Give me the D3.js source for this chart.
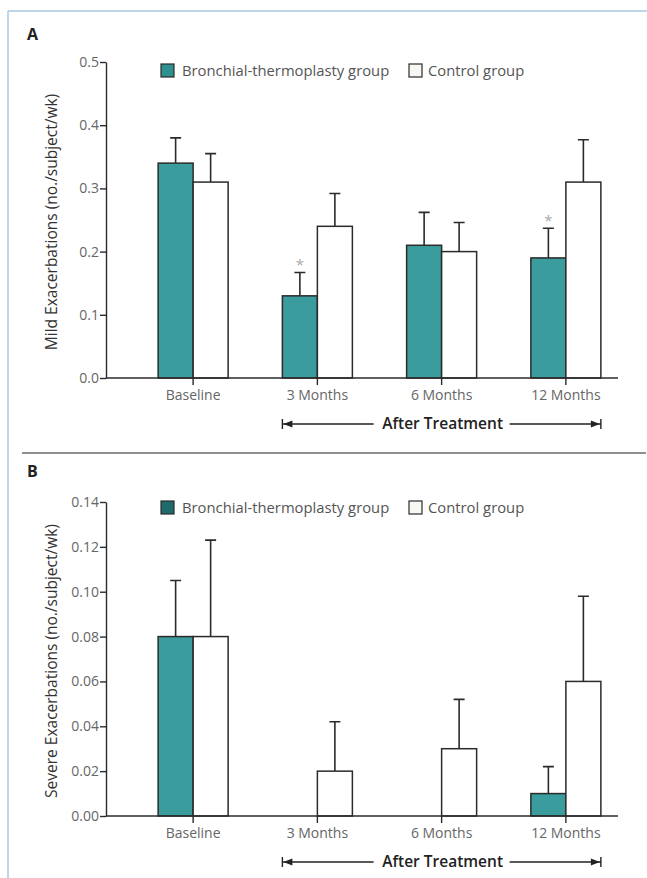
<!DOCTYPE html>
<html><head><meta charset="utf-8">
<script src="https://cdn.jsdelivr.net/npm/d3@7"></script>
<style>body{margin:0;background:#fff}svg{display:block}</style>
</head><body>
<svg id="c" width="647" height="878"></svg>
<script>
const categories = ["Baseline", "3 Months", "6 Months", "12 Months"];
const seriesNames = ["Bronchial-thermoplasty group", "Control group"];
// Panel A: mild exacerbations
const mildBT = [0.34, 0.13, 0.21, 0.19];
const mildBTErr = [0.040, 0.037, 0.052, 0.047];
const mildCtrl = [0.31, 0.24, 0.20, 0.31];
const mildCtrlErr = [0.045, 0.052, 0.046, 0.067];
const mildStar = [false, true, false, true];
const mildTicks = [0.0, 0.1, 0.2, 0.3, 0.4, 0.5];
// Panel B: severe exacerbations
const sevBT = [0.08, 0, 0, 0.01];
const sevBTErr = [0.025, 0, 0, 0.012];
const sevCtrl = [0.08, 0.02, 0.03, 0.06];
const sevCtrlErr = [0.043, 0.022, 0.022, 0.038];
const sevTicks = [0.00, 0.02, 0.04, 0.06, 0.08, 0.10, 0.12, 0.14];

const svg = d3.select("#c");
const FONT = "'Open Sans', 'Noto Sans', sans-serif";
const TEAL = "#3a9c9c";
const INK = "#2b2b2b";

// frame
svg.append("line").attr("x1", 8).attr("x2", 647).attr("y1", 11).attr("y2", 11)
  .attr("stroke", "#a9c9e2").attr("stroke-width", 1.5);
svg.append("line").attr("x1", 8).attr("x2", 8).attr("y1", 11).attr("y2", 878)
  .attr("stroke", "#a9c9e2").attr("stroke-width", 1.5);
svg.append("line").attr("x1", 22).attr("x2", 646).attr("y1", 453).attr("y2", 453)
  .attr("stroke", "#6a6a6a").attr("stroke-width", 1.5);

function panel(opts) {
  const g = svg.append("g");
  const y = d3.scaleLinear().domain(opts.domain).range([opts.y0, opts.y1]);
  const x0 = d3.scaleBand().domain(categories).range([131, 628]);
  const x1 = d3.scaleBand().domain(seriesNames).range([-35, 35]);
  const cx = c => x0(c) + x0.bandwidth() / 2;

  // panel letter
  g.append("text").attr("x", 27).attr("y", opts.letterY).text(opts.letter)
    .attr("font-family", FONT).attr("font-weight", 700).attr("font-size", 16).attr("fill", "#222");

  // y axis
  const ax = g.append("g").attr("transform", "translate(106,0)")
    .call(d3.axisLeft(y).tickValues(opts.ticks).tickSize(6).tickSizeOuter(0).tickFormat(opts.fmt));
  ax.select(".domain").attr("stroke", INK).attr("stroke-width", 1.4);
  ax.selectAll(".tick line").attr("stroke", INK).attr("stroke-width", 1.4);
  ax.selectAll(".tick text").attr("font-family", FONT).attr("font-size", 14).attr("fill", "#666").attr("x", -7);

  // y label
  g.append("text").attr("transform", `translate(57,${(opts.y0 + opts.y1) / 2 + 2}) rotate(-90)`)
    .attr("text-anchor", "middle").text(opts.ylabel)
    .attr("font-family", FONT).attr("font-size", 15.5).attr("fill", "#333");

  // legend
  const lg = g.append("g").attr("transform", `translate(0,${opts.legendY})`);
  lg.append("rect").attr("x", 161).attr("y", -7).attr("width", 13).attr("height", 13)
    .attr("fill", opts.legendTeal).attr("stroke", INK).attr("stroke-width", 1.2);
  lg.append("text").attr("x", 182).attr("y", 5).text(seriesNames[0])
    .attr("font-family", FONT).attr("font-size", 14.8).attr("fill", "#555");
  lg.append("rect").attr("x", 409).attr("y", -7).attr("width", 13).attr("height", 13)
    .attr("fill", "#f7f7f4").attr("stroke", INK).attr("stroke-width", 1.2);
  lg.append("text").attr("x", 428).attr("y", 5).text(seriesNames[1])
    .attr("font-family", FONT).attr("font-size", 14.8).attr("fill", "#555");

  // bars
  const rows = [];
  categories.forEach((c, i) => {
    rows.push({c, s: seriesNames[0], v: opts.bt[i], e: opts.btErr[i], fill: TEAL, star: opts.star ? opts.star[i] : false});
    rows.push({c, s: seriesNames[1], v: opts.ctrl[i], e: opts.ctrlErr[i], fill: "#fff", star: false});
  });
  const vis = rows.filter(d => d.v > 0);
  g.selectAll(".err").data(vis).enter().append("path")
    .attr("d", d => {
      const xm = cx(d.c) + x1(d.s) + x1.bandwidth() / 2;
      const yt = y(d.v + d.e);
      return `M${xm},${y(d.v)}V${yt}M${xm - 5.5},${yt}H${xm + 5.5}`;
    })
    .attr("stroke", INK).attr("stroke-width", 1.6).attr("fill", "none");
  g.selectAll(".bar").data(vis).enter().append("rect")
    .attr("x", d => cx(d.c) + x1(d.s)).attr("width", x1.bandwidth())
    .attr("y", d => y(d.v)).attr("height", d => y(0) - y(d.v))
    .attr("fill", d => d.fill).attr("stroke", INK).attr("stroke-width", 1.5);
  g.selectAll(".star").data(vis.filter(d => d.star)).enter().append("text")
    .attr("x", d => cx(d.c) + x1(d.s) + x1.bandwidth() / 2)
    .attr("y", d => y(d.v + d.e) - 2).attr("text-anchor", "middle").text("*")
    .attr("font-family", FONT).attr("font-size", 15).attr("fill", "#aaa");

  // x axis
  g.append("line").attr("x1", 106).attr("x2", 618).attr("y1", y(0)).attr("y2", y(0))
    .attr("stroke", INK).attr("stroke-width", 1.4);
  g.selectAll(".xt").data(categories).enter().append("line")
    .attr("x1", cx).attr("x2", cx).attr("y1", y(0)).attr("y2", y(0) + 7)
    .attr("stroke", INK).attr("stroke-width", 1.4);
  g.selectAll(".xl").data(categories).enter().append("text")
    .attr("x", cx).attr("y", y(0) + 22).attr("text-anchor", "middle").text(d => d)
    .attr("font-family", FONT).attr("font-size", 14).attr("fill", "#666");

  // After Treatment bracket
  const xa = cx(categories[1]) - 35, xb = cx(categories[3]) + 35;
  const ya = y(0) + 46;
  const mid = (xa + xb) / 2 + 1;
  g.append("path").attr("d", `M${xa},${ya}H${mid - 69}M${mid + 67},${ya}H${xb}M${xa},${ya - 5}V${ya + 5}M${xb},${ya - 5}V${ya + 5}`)
    .attr("stroke", "#222").attr("stroke-width", 1.4).attr("fill", "none");
  g.append("path").attr("d", `M${xa + 1},${ya}L${xa + 10},${ya - 3.5}V${ya + 3.5}Z M${xb - 1},${ya}L${xb - 10},${ya - 3.5}V${ya + 3.5}Z`)
    .attr("fill", "#222");
  g.append("text").attr("x", mid).attr("y", ya + 5).attr("text-anchor", "middle").text("After Treatment")
    .attr("font-family", FONT).attr("font-size", 15.5).attr("font-weight", 600).attr("fill", "#222");
}

panel({letter: "A", letterY: 40, domain: [0, 0.5], y0: 378, y1: 62, ticks: mildTicks, fmt: d3.format(".1f"),
  ylabel: "Mild Exacerbations (no./subject/wk)", legendY: 71, legendTeal: "#2f9090",
  bt: mildBT, btErr: mildBTErr, ctrl: mildCtrl, ctrlErr: mildCtrlErr, star: mildStar});
panel({letter: "B", letterY: 477, domain: [0, 0.14], y0: 816, y1: 502, ticks: sevTicks, fmt: d3.format(".2f"),
  ylabel: "Severe Exacerbations (no./subject/wk)", legendY: 508, legendTeal: "#1f6b6b",
  bt: sevBT, btErr: sevBTErr, ctrl: sevCtrl, ctrlErr: sevCtrlErr});
</script>
</body></html>
